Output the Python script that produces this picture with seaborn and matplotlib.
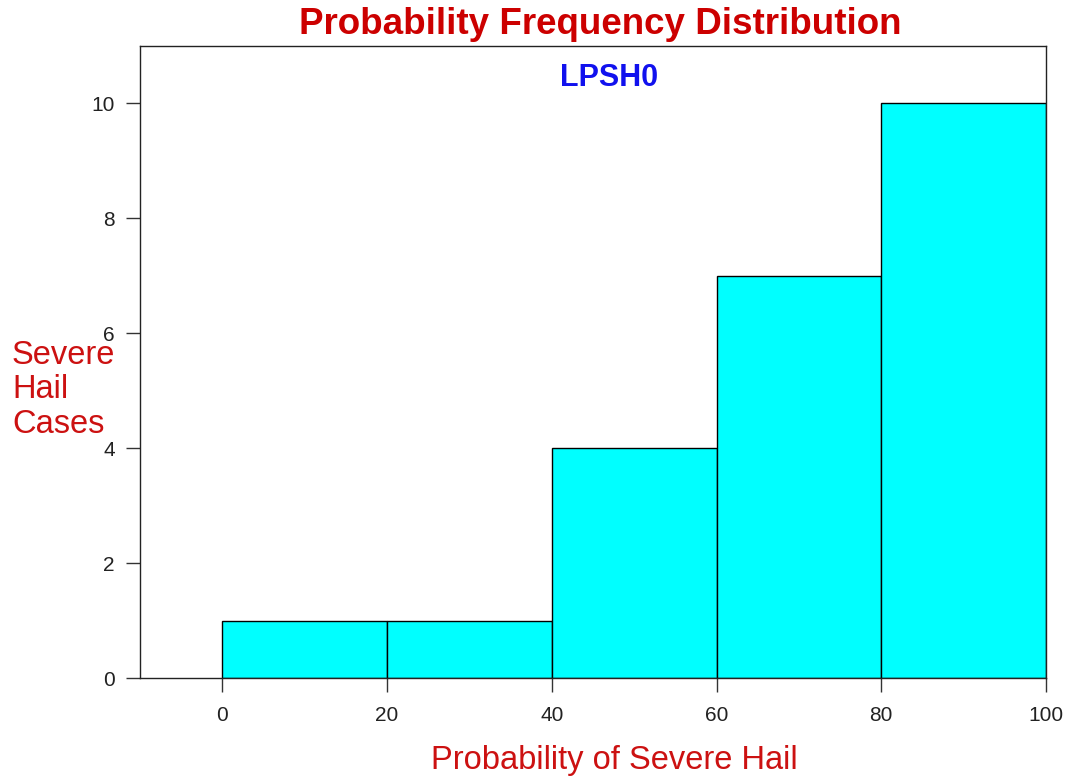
import matplotlib
matplotlib.use("Agg")
import matplotlib.pyplot as plt
import seaborn as sns
import pandas as pd

bin_edges = [0, 20, 40, 60, 80, 100]
bin_centers = [10, 30, 50, 70, 90]
counts = [1, 1, 4, 7, 10]
x_ticks = [0, 20, 40, 60, 80, 100]
y_ticks = [0, 2, 4, 6, 8, 10]

sns.set_theme(style="white")
plt.rcParams['font.family'] = ['Liberation Sans', 'DejaVu Sans']

df = pd.DataFrame({"prob": bin_centers, "cases": counts})

fig = plt.figure(figsize=(10.67, 7.82), dpi=100)
ax = fig.add_axes([140/1067, 1-678/782, (1046-140)/1067, (678-46)/782])

sns.histplot(data=df, x="prob", weights="cases", bins=bin_edges, ax=ax,
             color="#00FFFF", edgecolor="black", linewidth=1.0, alpha=1.0)

ax.set_xlim(-10, 100)
ax.set_ylim(0, 11)
ax.set_xticks(x_ticks)
ax.set_yticks(y_ticks)
ax.tick_params(axis="both", direction="out", length=10, width=1.0, color="#333333",
               labelsize=15, labelcolor="#222222", bottom=True, left=True)
ax.tick_params(axis="x", pad=10)
ax.tick_params(axis="y", pad=8)
for s in ax.spines.values():
    s.set_color("#222222")
    s.set_linewidth(1.0)
    s.set_visible(True)

ax.set_xlabel("")
ax.set_ylabel("")
fig.text(614/1067, 1-760/782, "Probability of Severe Hail", fontsize=23.5, color="#CC1111",
         ha="center", va="center")
fig.text(12/1067, 1-390/782, "Severe\nHail\nCases", fontsize=23.5, color="#CC1111",
         ha="left", va="center", linespacing=1.16)
fig.text(600/1067, 1-24/782, "Probability Frequency Distribution", fontsize=26.5,
         fontweight="bold", color="#CC0000", ha="center", va="center")
fig.text(609/1067, 1-78/782, "LPSH0", fontsize=22, fontweight="bold",
         color="#1111EE", ha="center", va="center")

fig.savefig("out.png", dpi=100)
